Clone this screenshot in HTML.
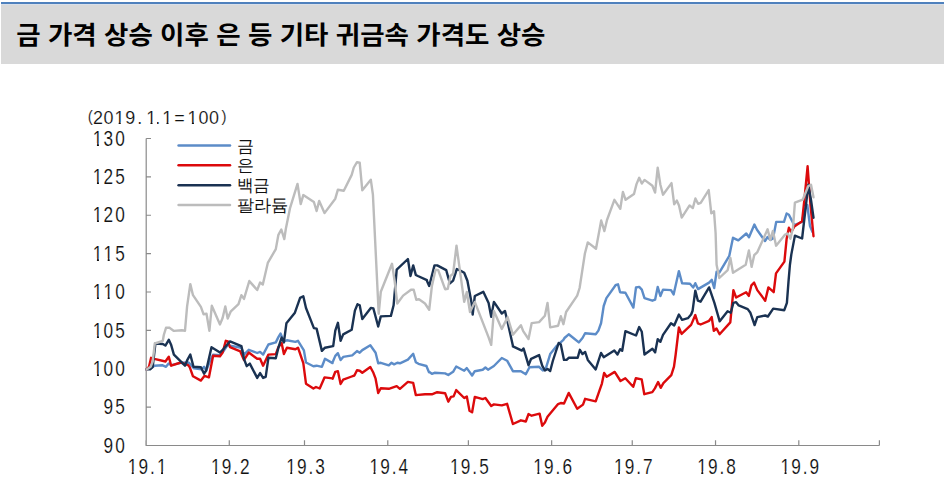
<!DOCTYPE html><html><head><meta charset="utf-8"><title>금 가격 상승 이후 은 등 기타 귀금속 가격도 상승</title><style>html,body{margin:0;padding:0;background:#fff}svg{display:block}text{font-family:"Liberation Sans",sans-serif}</style></head><body>
<svg width="944" height="503" viewBox="0 0 944 503" role="img" aria-label="금 가격 상승 이후 은 등 기타 귀금속 가격도 상승 (2019.1.1=100): 금, 은, 백금, 팔라듐">
<rect x="0" y="0" width="944" height="503" fill="#fff"/>
<rect x="1" y="4" width="943" height="60" fill="#d9d9d9"/>
<rect x="1" y="2" width="943" height="2" fill="#4f81bd"/>
<rect x="1" y="4" width="943" height="1" fill="#d9e0ea"/>
<text x="16.2" y="44" font-size="25" font-weight="bold" fill="#000" textLength="529.3" lengthAdjust="spacingAndGlyphs" style="font-family:'Liberation Sans','Noto Sans CJK KR',sans-serif">금 가격 상승 이후 은 등 기타 귀금속 가격도 상승</text>
<g fill="#111" stroke="#fff" stroke-width="0.15"><text transform="scale(0.95,1)" font-size="15.8" y="122" x="92.28">(</text><text transform="scale(0.95,1)" font-size="15.8" y="122" x="233.07">)</text><text transform="scale(0.96,1)" font-size="18.7" y="124.4" x="96.87 107.92 119.17 130.48 142.88 152.29 161.73 168.96 181.48 195.42 206.87 217.60">2019.1.1=100</text><text transform="scale(0.805,1)" font-size="21.4" y="452.712" x="128.70 143.23">90</text><text transform="scale(0.805,1)" font-size="21.4" y="414.337" x="128.70 143.23">95</text><text transform="scale(0.805,1)" font-size="21.4" y="375.962" x="115.34 128.70 143.23">100</text><text transform="scale(0.805,1)" font-size="21.4" y="337.587" x="115.34 128.70 143.23">105</text><text transform="scale(0.805,1)" font-size="21.4" y="299.212" x="115.34 128.70 143.23">110</text><text transform="scale(0.805,1)" font-size="21.4" y="260.837" x="115.34 128.70 143.23">115</text><text transform="scale(0.805,1)" font-size="21.4" y="222.462" x="115.34 128.70 143.23">120</text><text transform="scale(0.805,1)" font-size="21.4" y="184.087" x="115.34 128.70 143.23">125</text><text transform="scale(0.805,1)" font-size="21.4" y="145.712" x="115.34 128.70 143.23">130</text><text transform="scale(0.805,1)" font-size="21.4" y="473.6" x="158.57 171.92 186.24 194.96">19.1</text><text transform="scale(0.805,1)" font-size="21.4" y="473.6" x="262.02 275.37 289.70 298.24">19.2</text><text transform="scale(0.805,1)" font-size="21.4" y="473.6" x="355.46 368.81 383.14 391.68">19.3</text><text transform="scale(0.805,1)" font-size="21.4" y="473.6" x="458.91 472.26 486.59 495.13">19.4</text><text transform="scale(0.805,1)" font-size="21.4" y="473.6" x="559.03 572.38 586.71 595.25">19.5</text><text transform="scale(0.805,1)" font-size="21.4" y="473.6" x="662.48 675.83 690.16 698.70">19.6</text><text transform="scale(0.805,1)" font-size="21.4" y="473.6" x="762.60 775.95 790.28 798.82">19.7</text><text transform="scale(0.805,1)" font-size="21.4" y="473.6" x="866.05 879.40 893.73 902.27">19.8</text><text transform="scale(0.805,1)" font-size="21.4" y="473.6" x="969.51 982.86 997.18 1005.72">19.9</text></g>
<path fill="#fff" d="M114.17 121.90H118.66V125.70H114.17ZM120.75 121.90H125.11V125.70H120.75ZM145.97 121.90H150.46V125.70H145.97ZM152.55 121.90H156.91V125.70H152.55ZM161.97 121.90H166.46V125.70H161.97ZM168.55 121.90H172.91V125.70H168.55ZM187.37 121.90H191.86V125.70H187.37ZM193.95 121.90H198.31V125.70H193.95ZM92.56 373.26H96.93V377.26H92.56ZM98.95 373.26H103.19V377.26H98.95ZM92.56 334.89H96.93V338.89H92.56ZM98.95 334.89H103.19V338.89H98.95ZM92.56 296.51H96.93V300.51H92.56ZM98.95 296.51H103.19V300.51H98.95ZM103.31 296.51H107.68V300.51H103.31ZM109.70 296.51H113.94V300.51H109.70ZM92.56 258.14H96.93V262.14H92.56ZM98.95 258.14H103.19V262.14H98.95ZM103.31 258.14H107.68V262.14H103.31ZM109.70 258.14H113.94V262.14H109.70ZM92.56 219.76H96.93V223.76H92.56ZM98.95 219.76H103.19V223.76H98.95ZM92.56 181.39H96.93V185.39H92.56ZM98.95 181.39H103.19V185.39H98.95ZM92.56 143.01H96.93V147.01H92.56ZM98.95 143.01H103.19V147.01H98.95ZM127.36 470.90H131.73V474.90H127.36ZM133.75 470.90H137.99V474.90H133.75ZM156.66 470.90H161.03V474.90H156.66ZM163.05 470.90H167.29V474.90H163.05ZM210.64 470.90H215.01V474.90H210.64ZM217.03 470.90H221.27V474.90H217.03ZM285.86 470.90H290.23V474.90H285.86ZM292.25 470.90H296.49V474.90H292.25ZM369.14 470.90H373.51V474.90H369.14ZM375.53 470.90H379.77V474.90H375.53ZM449.73 470.90H454.10V474.90H449.73ZM456.12 470.90H460.36V474.90H456.12ZM533.01 470.90H537.38V474.90H533.01ZM539.40 470.90H543.64V474.90H539.40ZM613.60 470.90H617.97V474.90H613.60ZM620.00 470.90H624.23V474.90H620.00ZM696.88 470.90H701.25V474.90H696.88ZM703.28 470.90H707.51V474.90H703.28ZM780.16 470.90H784.53V474.90H780.16ZM786.56 470.90H790.79V474.90H786.56Z"/>
<path d="M146.2 138.5V445.5H879.4M146.2 445.50H151M146.2 407.12H151M146.2 368.75H151M146.2 330.38H151M146.2 292.00H151M146.2 253.62H151M146.2 215.25H151M146.2 176.88H151M146.2 138.50H151M146.00 445.5v-5.3M229.28 445.5v-5.3M304.50 445.5v-5.3M387.78 445.5v-5.3M468.37 445.5v-5.3M551.65 445.5v-5.3M632.25 445.5v-5.3M715.53 445.5v-5.3M798.81 445.5v-5.3M879.40 445.5v-5.3" fill="none" stroke="#8a8a8a" stroke-width="1.2"/>
<path d="M178.6 145.50H230" stroke="#5c8cc8" stroke-width="2.55" stroke-linecap="round" fill="none"/>
<path d="M178.6 165.33H230" stroke="#dc0a0c" stroke-width="2.55" stroke-linecap="round" fill="none"/>
<path d="M178.6 185.16H230" stroke="#1a3252" stroke-width="2.55" stroke-linecap="round" fill="none"/>
<path d="M178.6 204.99H230" stroke="#bcbcbc" stroke-width="2.55" stroke-linecap="round" fill="none"/>
<g fill="#111" font-size="16.5" style="font-family:'Liberation Sans','Noto Sans CJK KR',sans-serif"><text x="236.7" y="151.5">금</text><text x="236.7" y="171.4">은</text><text x="236.7" y="191.3" textLength="33.5" lengthAdjust="spacingAndGlyphs">백금</text><text x="236.7" y="211" textLength="51.7" lengthAdjust="spacingAndGlyphs">팔라듐</text></g>
<polyline fill="none" stroke="#5c8cc8" stroke-width="2.4" stroke-linejoin="round" stroke-linecap="round" points="146.6,369.4 151.7,367.8 154.3,365.7 162.2,365.2 166,366.8 168.6,363.6 171.2,365.2 180.8,362.8 188.7,362.5 190.8,364.7 194,368.4 201.4,369.4 204.1,366.8 206.2,370.5 209.9,361.5 213.1,354.6 220,355.1 223.7,350.9 227.9,344.5 230,345.6 241.4,347.7 244,354.6 248.8,349.8 257.2,353 260.1,351.9 263.1,354.6 268.4,344.5 275.8,342.4 278.4,337.1 280.5,333.5 283.9,341.4 286.9,340.3 295.4,341.9 298,340.8 303.9,350.4 306,362.5 313.4,366.2 316.6,365.7 321.9,366.8 325,358.8 332.5,363.1 332.6,362.2 335.3,355.9 337.9,353.2 340.6,360.1 343.2,356.9 352.2,355.4 357,351.1 359.7,352.7 362.3,350.1 370.3,345.3 375.6,352.7 378.2,363.3 380.8,362.8 388.8,365.4 391.4,362.8 394.1,364.4 397.3,362.8 399.9,363.3 407.9,359.6 413.2,353.8 415.8,362.2 418.5,363.8 426.4,366 429,372.3 429.8,372.3 431.9,373.9 434.5,372.8 445.1,373.4 448.3,375 453.1,371.8 456.2,366.5 464.2,370.7 466.8,368.1 472.1,375.5 474.8,371.2 482.7,369.7 485.4,367.5 488,369.7 493.9,366 501.8,358 507.1,360.7 512.9,371.2 520.9,371.2 525.8,374.2 529.5,367.3 539.1,366.8 542.8,370.5 546,367.8 550.2,354.1 556,346.7 563.4,339.8 564.5,338 568.7,334.3 574,338.5 578.8,342.4 582.5,338 585.1,333.2 595.7,334.3 598.4,330.6 601.1,323 603.7,306 606.4,298.1 615.9,284.8 618,284.3 620.1,292.2 625.4,292.8 633.4,307.6 636,287.5 639.2,286.9 641.8,289.6 644.5,298.1 652.4,300.7 655.1,299.7 657.7,286.9 660.4,296 663,289.6 671,290.1 673.6,294.4 678.9,271.1 682.1,283.2 690,283.8 693.2,287.5 695.3,283.2 698,289.1 709.1,282.6 711.8,279.8 714.2,288 716.6,271.7 719.3,272.7 729.3,255.8 733,237.8 738.3,240.4 746.3,233.5 749,237.2 754.4,224.5 757,229.8 765,241 767.6,237 770.3,240 773,238.5 776.2,221.9 784,221.9 786.6,213.5 788.9,214.7 791.9,220.6 794,225 802,222 804.5,210 807.3,205 810,226 812.5,232"/>
<polyline fill="none" stroke="#dc0a0c" stroke-width="2.4" stroke-linejoin="round" stroke-linecap="round" points="146.6,369.4 149,366.8 151.1,357.8 154.3,358.8 165.4,361.5 168.8,356.7 171.2,365.7 180.8,362.5 188.2,365.2 189.8,367.3 193,376.3 200.9,380.6 204.6,375.8 208.9,377.4 213.1,355.7 220,356.2 222.6,352.5 225.8,340.8 227.9,341.4 230,347.2 240.3,351.4 244,359.9 248.8,352.5 257.2,358.8 260.1,358.8 263.1,365.7 268.4,354.6 275.8,354.1 278.4,347.2 281.6,342.9 283.9,354.1 286.9,347.7 295.4,349.3 298,347.7 303.3,363.1 306,383.7 313.4,388.5 316,387 319.7,388.5 324.5,377.4 332.5,378.4 332.6,378.7 335.3,371.8 337.9,371.2 340.6,384 343.2,379.7 351.7,376.5 354.4,375.5 357,370.2 359.7,370.7 362.3,372.8 370.3,367 373.4,372.8 375.6,378.7 378.2,393 380.8,388.2 388.8,388.8 396.7,386.1 399.9,388.8 407.9,381.9 413.2,382.9 415.8,395.1 425,394.3 431.9,394.3 437.2,392.2 445.1,393.2 448.3,401.7 451,396.9 453.6,396.4 456.2,390.1 464.2,398 466.8,396.4 469.5,410.7 472.1,412.3 474.8,396.9 482.7,399.1 485.4,398 491.2,406 493.9,404.4 501.8,405.4 507.1,403.8 512.9,424 520.9,420.3 525.8,421.5 528.5,414.1 531.7,415.7 539.6,413.6 542.2,425.8 544.9,422.6 547.5,416.8 558.1,404.1 560.8,403 564,403.5 568.7,392.9 577.2,408.8 583,404.6 585.1,398.8 595.7,401.4 601.9,383.6 604.1,373 606.7,376.7 614.7,371.9 620.5,381 625.3,378.3 633.2,386.8 635.8,378.3 641.7,379.4 644.3,394.2 652.3,392.1 654.9,388.4 658.1,382 660.7,387.8 663.4,383.1 671.3,375.1 674,366.7 675.6,355 678.9,327.5 681.6,333.9 691.1,324.9 695.3,315 697.9,323.4 700.6,324.5 709.1,320.8 711.7,317.1 713.8,330.8 716.5,328.5 719.6,334.3 730.3,322.4 733.4,290.1 736.1,297.5 746.1,292.2 748.8,295.9 751.4,285.3 754.1,282.6 757.3,290.1 765.2,300.7 768.4,287.4 773.7,292.2 776,273.4 784.4,261.6 786.6,239.1 788.9,227.8 791.3,232 794.3,226.6 802.1,221.2 804.5,198.6 807.6,166.3 810.5,205 813.5,236.2"/>
<polyline fill="none" stroke="#1a3252" stroke-width="2.4" stroke-linejoin="round" stroke-linecap="round" points="146.6,369.4 150.1,369.4 152.7,366.8 155.4,343.5 162.8,344 165.4,345.6 168.8,339.8 171.2,345.1 173.9,354.6 185,365.7 187.1,360.4 190.3,354.6 193.5,366.8 200.9,367.3 204.1,373.7 206.2,370.5 211.5,347.2 220,352.5 223.7,348.8 230,341.4 241.4,346.1 244,358.8 246.7,366.2 249.8,363.6 257.2,377.9 260.1,373.1 263.1,377.9 265.7,376.8 268.4,357.8 275.8,358.3 278.4,347.7 281.6,337.6 283.9,342.4 286.4,323.3 294.9,312.7 300.1,297.9 303.3,296.3 306,308 313.9,328.1 316.6,328.6 321.9,350.9 325,347.7 333,346.1 333.2,346.1 335.3,330.7 337.9,322.8 340.6,340.8 343.2,334.4 351.7,329.7 354.9,310.6 357.5,304.2 359.7,305.3 362.3,319.1 370.8,307.9 373.4,308.5 378.2,326.5 380.8,316.4 390.9,315.9 393.6,305.3 396.7,269.6 407.9,259 410.5,276 413.2,265.4 415.8,274.9 417.9,276 426.9,280.2 427.1,281.2 429.2,286 434.5,265.4 437.2,265.4 446.2,270.1 449.9,283.4 453.1,280.7 456.8,269.1 459.4,270.1 464.2,272.8 467.4,280.7 471.6,303 472.7,314.6 474.8,296 483.3,291.8 488.6,303 491.2,316.7 493.9,301.9 501.8,313.5 505,310.9 507.6,322 512.9,345.8 512.9,346.4 521.9,350.6 523.5,348.5 523.7,348.8 528.5,365.2 531.1,358.8 539.1,355.1 542.2,365.7 544.9,370.5 547.5,368.9 550.2,371 552.8,361 558.7,342.9 560.8,344.5 564,359.9 566.6,359.9 568.7,357.8 577.7,357.8 579.9,349.8 582.5,354.1 585.1,351.9 587.8,359.9 595.7,369.4 601,353 603.7,357.2 614.3,350.4 617.5,354.5 620.1,349.2 622.2,350.8 625.4,331.2 636,335.5 639.2,327 641.8,331.8 644.5,354.5 652.4,348.7 655.1,352.4 657.7,339.2 660.4,341.8 663,334.9 671,323.3 674.2,325.4 678.9,314.5 682.1,319.8 687.9,318.2 691.1,314.5 692.6,310.7 695.3,290.6 697.9,300.7 700.6,301.7 709.1,287.4 714.4,302.8 719.7,321.3 727.6,311.2 730.8,312.8 733.4,302.8 736.1,302.2 738.7,305.4 747.7,309.1 750.4,312.8 754.6,325 757.3,317.1 765.2,315.5 767.9,316.5 773.2,308.6 784.3,310.2 786.9,302.8 788.5,281.7 789.9,265 791.3,254.6 794.9,235.6 802.1,238.5 804.8,215 808.3,184.8 811,200 813.5,217.7"/>
<polyline fill="none" stroke="#bcbcbc" stroke-width="2.4" stroke-linejoin="round" stroke-linecap="round" points="146.6,369.4 150.6,366.8 152.7,361.5 154.8,343.5 162.8,340.8 163.8,335 166,327.8 169.1,327.6 173.9,330.9 181.8,330.2 185,330.7 187.1,306.4 190.3,284.1 193,295.2 200.9,306.9 203.6,314.3 206.5,313.8 209.4,330.7 211.8,305.8 220,324.4 222.6,318 225.3,306.4 227.7,318.5 230.6,311.7 238.5,304.2 241.4,295.2 244,298.9 249.3,281 252,284.1 257.2,290 260.1,282.5 262.8,284.5 267.8,262.9 275.8,249.1 278.4,234.8 281.3,229.5 284.3,239.1 285.8,229 290.1,207.8 297.5,183.9 300.7,204.1 303.3,195.1 313.9,202 316.6,211 319.2,200.9 324.5,213.1 335.3,198.7 337.9,189.7 343.8,190.8 351.7,174.9 353.8,167.5 357,162.2 359.7,162.7 362.3,190.3 370.8,179.7 372.9,194.5 378.7,313.8 380.8,291.8 392,263.8 394.6,280.7 397.3,303.5 403.1,295.6 411,289.7 413.7,289.7 416.3,299.8 419,299.3 425,303.5 429.2,309.8 431.9,286 435.6,269.6 438.2,270.1 445.1,289.2 447.8,288.7 450.4,276 453.1,273.8 456.5,245.7 464.2,301.9 466.8,292 470,312 474.8,301.9 488.6,337.4 491.2,344.8 493.9,310.9 501.8,328.9 507.6,317.2 512.9,334.7 520.9,325.2 523.2,331.1 528.5,339 531.7,323.1 539.1,322.1 544.9,315.7 547.5,303 550.2,327.4 558.1,325.8 560.8,316.2 563.4,324.2 566.1,312 577.2,295.6 579.6,288 584.9,253.5 587.8,242.4 596,248.8 601.2,220.5 604.4,231.1 607,220 614.4,199.8 620.3,208.8 622.9,191.9 625.6,199.8 634,194 636.5,184.1 639.2,177.8 641.8,183.6 644.5,179.9 652.4,185.7 655.1,192.6 657.7,167.7 660.4,184.7 663,194.7 671.5,183.1 674.2,204.3 676.8,200.6 679,205.4 681.7,217.6 689.6,205.4 692.8,208.1 695.4,198.5 698.1,203.8 700.7,202.8 708.7,190.1 711.3,213.4 714,211.2 715.6,233 716.6,264.8 719.3,278 727.7,270.1 730.4,257.9 733,272.7 745.7,264.8 748.9,250.5 751.6,266.9 754.2,255.2 757.4,252.1 767.6,229.3 770.3,239.9 772.9,230.9 776.1,245.7 785.1,234.6 787.7,233.5 790.4,238.8 793,227.7 794.9,202.7 802.7,199.7 808.3,186 811,184.8 813.5,197.3"/>
</svg></body></html>
